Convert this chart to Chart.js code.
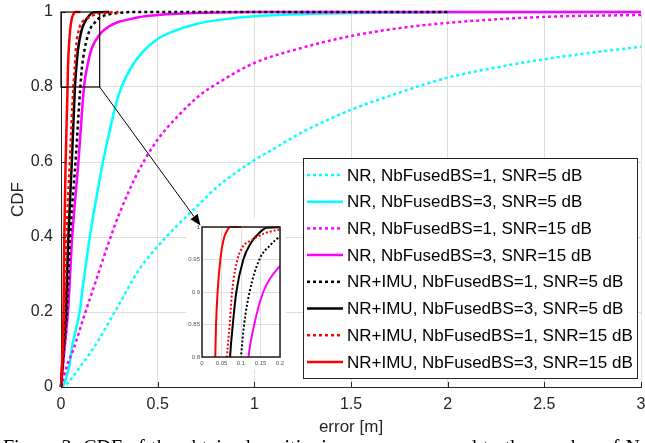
<!DOCTYPE html>
<html>
<head>
<meta charset="utf-8">
<script src="https://cdn.jsdelivr.net/npm/chart.js@4"></script>
<style>
  body { margin: 0; background: #fff; }
  #wrap { position: relative; width: 645px; height: 443px; overflow: hidden; }
  #main { position: absolute; left: 0; top: 0; }
  #inset { position: absolute; left: 186px; top: 219px; }
</style>
</head>
<body>
<div id="wrap">
  <canvas id="main" width="645" height="443"></canvas>
  <canvas id="inset" width="100" height="151"></canvas>
</div>
<script>
// tick values / labels
const xTicks = [0, 0.5, 1, 1.5, 2, 2.5, 3];
const xTickLabels = ['0', '0.5', '1', '1.5', '2', '2.5', '3'];
const yTicks = [0, 0.2, 0.4, 0.6, 0.8, 1];
const yTickLabels = ['0', '0.2', '0.4', '0.6', '0.8', '1'];
const insetXTicks = [0, 0.05, 0.1, 0.15, 0.2];
const insetXTickLabels = ['0', '0.05', '0.1', '0.15', '0.2'];
const insetYTicks = [0.8, 0.85, 0.9, 0.95, 1];
const insetYTickLabels = ['0.8', '0.85', '0.9', '0.95', '1'];

const legendLabels = [
    'NR, NbFusedBS=1, SNR=5 dB',
    'NR, NbFusedBS=3, SNR=5 dB',
    'NR, NbFusedBS=1, SNR=15 dB',
    'NR, NbFusedBS=3, SNR=15 dB',
    'NR+IMU, NbFusedBS=1, SNR=5 dB',
    'NR+IMU, NbFusedBS=3, SNR=5 dB',
    'NR+IMU, NbFusedBS=1, SNR=15 dB',
    'NR+IMU, NbFusedBS=3, SNR=15 dB'
];

// CDF curves (error [m], CDF)
const nrBs1Snr5X = [0, 0.02, 0.05, 0.1, 0.15, 0.2, 0.25, 0.3, 0.4, 0.5, 0.6, 0.7, 0.8, 0.9, 1.0, 1.1, 1.25, 1.5, 1.75, 2.0, 2.25, 2.5, 2.75, 3.0];
const nrBs1Snr5Y = [0, 0.003, 0.02, 0.055, 0.09, 0.13, 0.175, 0.22, 0.31, 0.375, 0.43, 0.48, 0.53, 0.57, 0.605, 0.635, 0.68, 0.739, 0.785, 0.825, 0.852, 0.874, 0.892, 0.907];

const nrBs3Snr5X = [0, 0.01, 0.03, 0.046, 0.055, 0.08, 0.098, 0.115, 0.135, 0.155, 0.185, 0.219, 0.25, 0.29, 0.313, 0.36, 0.425, 0.5, 0.58, 0.7, 0.82, 1.03, 1.3, 1.6, 2, 3];
const nrBs3Snr5Y = [0, 0.002, 0.03, 0.064, 0.1, 0.16, 0.205, 0.276, 0.35, 0.42, 0.51, 0.605, 0.68, 0.765, 0.8, 0.85, 0.895, 0.928, 0.948, 0.968, 0.979, 0.99, 0.995, 0.998, 0.999, 1];

const nrBs1Snr15X = [0, 0.036, 0.064, 0.12, 0.176, 0.25, 0.3, 0.4, 0.5, 0.6, 0.72, 0.81, 1.0, 1.25, 1.5, 1.75, 2.0, 2.5, 3.0];
const nrBs1Snr15Y = [0, 0.064, 0.1, 0.19, 0.276, 0.39, 0.46, 0.575, 0.66, 0.72, 0.779, 0.81, 0.864, 0.905, 0.936, 0.957, 0.971, 0.987, 0.992];

const nrBs3Snr15X = [0, 0.018, 0.036, 0.058, 0.09, 0.119, 0.134, 0.157, 0.2, 0.25, 0.3, 0.34, 0.4, 0.5, 0.75, 1, 3];
const nrBs3Snr15Y = [0, 0.1, 0.2, 0.4, 0.6, 0.8, 0.85, 0.9, 0.94, 0.962, 0.974, 0.979, 0.986, 0.992, 0.998, 1, 1];

const imuBs1Snr5X = [0, 0.015, 0.03, 0.047, 0.075, 0.1, 0.108, 0.122, 0.147, 0.175, 0.2, 0.25, 0.3, 0.4, 2];
const imuBs1Snr5Y = [0, 0.1, 0.2, 0.4, 0.6, 0.8, 0.85, 0.9, 0.95, 0.972, 0.985, 0.994, 0.998, 1, 1];

const imuBs3Snr5X = [0, 0.012, 0.025, 0.038, 0.056, 0.072, 0.079, 0.088, 0.106, 0.125, 0.145, 0.166, 0.25];
const imuBs3Snr5Y = [0, 0.1, 0.2, 0.4, 0.6, 0.8, 0.85, 0.9, 0.95, 0.975, 0.99, 0.999, 1];

const imuBs1Snr15X = [0, 0.01, 0.02, 0.029, 0.046, 0.064, 0.071, 0.077, 0.091, 0.105, 0.128, 0.16, 0.2, 0.3];
const imuBs1Snr15Y = [0, 0.1, 0.2, 0.4, 0.6, 0.8, 0.85, 0.9, 0.95, 0.97, 0.98, 0.99, 0.996, 1];

const imuBs3Snr15X = [0, 0.008, 0.013, 0.017, 0.024, 0.034, 0.036, 0.04, 0.047, 0.055, 0.065, 0.072, 0.1];
const imuBs3Snr15Y = [0, 0.1, 0.2, 0.4, 0.6, 0.8, 0.85, 0.9, 0.95, 0.98, 0.995, 1, 1];

const seriesX = [nrBs1Snr5X, nrBs3Snr5X, nrBs1Snr15X, nrBs3Snr15X, imuBs1Snr5X, imuBs3Snr5X, imuBs1Snr15X, imuBs3Snr15X];
const seriesY = [nrBs1Snr5Y, nrBs3Snr5Y, nrBs1Snr15Y, nrBs3Snr15Y, imuBs1Snr5Y, imuBs3Snr5Y, imuBs1Snr15Y, imuBs3Snr15Y];
const seriesColors = ['#00ffff', '#00ffff', '#ff00ff', '#ff00ff', '#000000', '#000000', '#ff0000', '#ff0000'];
const seriesDotted = [true, false, true, false, true, false, true, false];

const FONT = "'Liberation Sans', Arial, sans-serif";
const AXIS = '#262626';
const GRID = '#dedede';
const INSET_LEFT = 186, INSET_TOP = 219;

const toPoints = (xs, ys) => xs.map((x, i) => ({ x: x, y: ys[i] }));

const makeDatasets = (width, dash, clip) => seriesX.map((xs, i) => ({
    label: legendLabels[i],
    data: toPoints(xs, seriesY[i]),
    borderColor: seriesColors[i],
    backgroundColor: seriesColors[i],
    borderWidth: width,
    borderDash: seriesDotted[i] ? dash : [],
    fill: false,
    clip: clip,
    // later series sit on top, like the original plot
    order: seriesX.length - i
}));

// no extra room for edge labels: keep the plot box where the original has it
const noPad = s => { s.paddingLeft = 0; s.paddingRight = 0; s.paddingTop = 0; s.paddingBottom = 0; };

let mainChart = null;
let insetChart = null;

const drawArrow = (ctx, x1, y1, x2, y2) => {
    const ang = Math.atan2(y2 - y1, x2 - x1);
    const len = 11, half = 4.5;
    const bx = x2 - len * Math.cos(ang), by = y2 - len * Math.sin(ang);
    ctx.save();
    ctx.strokeStyle = '#000';
    ctx.fillStyle = '#000';
    ctx.lineWidth = 1;
    ctx.setLineDash([]);
    ctx.beginPath();
    ctx.moveTo(x1, y1);
    ctx.lineTo(bx, by);
    ctx.stroke();
    ctx.beginPath();
    ctx.moveTo(x2, y2);
    ctx.lineTo(bx + half * Math.sin(ang), by - half * Math.cos(ang));
    ctx.lineTo(bx - half * Math.sin(ang), by + half * Math.cos(ang));
    ctx.closePath();
    ctx.fill();
    ctx.restore();
};

const arrowPoints = () => {
    if (!mainChart || !insetChart) return null;
    const sx = mainChart.scales.x.getPixelForValue(0.2);
    const sy = mainChart.scales.y.getPixelForValue(0.8);
    const ex = INSET_LEFT + insetChart.chartArea.left - 1.5;
    const ey = INSET_TOP + insetChart.chartArea.top - 1.5;
    return [sx, sy, ex, ey];
};

const mainDecor = {
    id: 'mainDecor',
    afterDatasetsDraw(chart) {
        const ctx = chart.ctx;
        const xs = chart.scales.x, ys = chart.scales.y;
        const a = chart.chartArea;
        ctx.save();
        // inward ticks
        ctx.strokeStyle = AXIS;
        ctx.lineWidth = 1;
        xTicks.forEach(v => {
            const px = Math.round(xs.getPixelForValue(v)) + 0.5;
            ctx.beginPath(); ctx.moveTo(px, a.bottom); ctx.lineTo(px, a.bottom - 5); ctx.stroke();
        });
        yTicks.forEach(v => {
            const py = Math.round(ys.getPixelForValue(v)) + 0.5;
            ctx.beginPath(); ctx.moveTo(a.left, py); ctx.lineTo(a.left + 5, py); ctx.stroke();
        });
        // zoom rectangle
        const rx = xs.getPixelForValue(0), rx2 = xs.getPixelForValue(0.2);
        const ry = ys.getPixelForValue(1), ry2 = ys.getPixelForValue(0.8);
        ctx.strokeStyle = '#1a0000';
        ctx.lineWidth = 1.2;
        ctx.strokeRect(rx, ry, rx2 - rx, ry2 - ry);
        ctx.restore();
    },
    afterDraw(chart) {
        const ctx = chart.ctx;
        const a = chart.chartArea;
        ctx.save();
        // legend
        const lx = 303, ly = 158, lw = 334, lh = 220;
        ctx.fillStyle = '#fff';
        ctx.fillRect(lx, ly, lw, lh);
        ctx.strokeStyle = AXIS;
        ctx.lineWidth = 1;
        ctx.strokeRect(lx + 0.5, ly + 0.5, lw, lh);
        ctx.font = '17px ' + FONT;
        ctx.textBaseline = 'middle';
        ctx.textAlign = 'left';
        chart.data.datasets.forEach((ds, i) => {
            const y = ly + 17 + i * 26.7;
            ctx.strokeStyle = ds.borderColor;
            ctx.lineWidth = 2.5;
            ctx.setLineDash(ds.borderDash);
            ctx.beginPath(); ctx.moveTo(lx + 4, y); ctx.lineTo(lx + 40, y); ctx.stroke();
            ctx.setLineDash([]);
            ctx.fillStyle = '#000';
            ctx.fillText(ds.label, lx + 44, y + 1);
        });
        // axis titles
        ctx.fillStyle = AXIS;
        ctx.font = '17px ' + FONT;
        ctx.textAlign = 'center';
        ctx.fillText('error [m]', (a.left + a.right) / 2, 427);
        ctx.save();
        ctx.translate(18, (a.top + a.bottom) / 2);
        ctx.rotate(-Math.PI / 2);
        ctx.fillText('CDF', 0, 0);
        ctx.restore();
        // caption (clipped by the frame)
        const words = 'Figure 3: CDF of the obtained positioning error compared to the number of N'.split(' ');
        ctx.font = '20px "Liberation Serif", "Times New Roman", serif';
        ctx.fillStyle = '#000';
        ctx.textAlign = 'left';
        ctx.textBaseline = 'alphabetic';
        const total = words.reduce((s, w) => s + ctx.measureText(w).width, 0);
        const gap = (640 - 3 - total) / (words.length - 1);
        let cx = 3;
        words.forEach(w => { ctx.fillText(w, cx, 454); cx += ctx.measureText(w).width + gap; });
        ctx.restore();
        const p = arrowPoints();
        if (p) drawArrow(ctx, p[0], p[1], p[2], p[3]);
    }
};

const insetDecor = {
    id: 'insetDecor',
    beforeDraw(chart) {
        const ctx = chart.ctx;
        ctx.save();
        ctx.fillStyle = '#fff';
        ctx.fillRect(0, 0, chart.width, chart.height);
        ctx.restore();
    },
    afterDatasetsDraw(chart) {
        const ctx = chart.ctx;
        const a = chart.chartArea;
        ctx.save();
        ctx.strokeStyle = '#2a1a1a';
        ctx.lineWidth = 1.5;
        ctx.strokeRect(a.left, a.top, a.right - a.left, a.bottom - a.top);
        ctx.restore();
    },
    afterDraw(chart) {
        const p = arrowPoints();
        if (p) drawArrow(chart.ctx, p[0] - INSET_LEFT, p[1] - INSET_TOP, p[2] - INSET_LEFT, p[3] - INSET_TOP);
    }
};

mainChart = new Chart(document.getElementById('main').getContext('2d'), {
    type: 'line',
    data: { datasets: makeDatasets(2.5, [3, 3], { left: 2, top: 3, right: 2, bottom: 2 }) },
    options: {
        responsive: false,
        animation: false,
        devicePixelRatio: 1,
        layout: { padding: { top: 12, right: 4, left: 0, bottom: 0 } },
        plugins: { legend: { display: false }, tooltip: { enabled: false } },
        elements: { point: { radius: 0 }, line: { cubicInterpolationMode: 'monotone' } },
        scales: {
            x: {
                type: 'linear', min: 0, max: 3,
                afterFit: s => { s.height = 56; noPad(s); },
                afterBuildTicks: s => { s.ticks = xTicks.map(v => ({ value: v })); },
                ticks: {
                    callback: (v, i) => xTickLabels[i],
                    font: { family: FONT, size: 16 }, color: AXIS,
                    padding: 8, maxRotation: 0, autoSkip: false
                },
                grid: { color: GRID, drawTicks: false },
                border: { color: AXIS, width: 1 }
            },
            y: {
                type: 'linear', min: 0, max: 1,
                afterFit: s => { s.width = 61; noPad(s); },
                afterBuildTicks: s => { s.ticks = yTicks.map(v => ({ value: v })); },
                ticks: {
                    callback: (v, i) => yTickLabels[i],
                    font: { family: FONT, size: 16 }, color: AXIS,
                    padding: 8, autoSkip: false
                },
                grid: { color: GRID, drawTicks: false },
                border: { color: AXIS, width: 1 }
            }
        }
    },
    plugins: [mainDecor]
});

insetChart = new Chart(document.getElementById('inset').getContext('2d'), {
    type: 'line',
    data: { datasets: makeDatasets(2, [2, 2], { left: 0, top: 2, right: 0, bottom: 0 }) },
    options: {
        responsive: false,
        animation: false,
        devicePixelRatio: 1,
        layout: { padding: { top: 8, right: 6, left: 0, bottom: 0 } },
        plugins: { legend: { display: false }, tooltip: { enabled: false } },
        elements: { point: { radius: 0 }, line: { cubicInterpolationMode: 'monotone' } },
        scales: {
            x: {
                type: 'linear', min: 0, max: 0.2,
                afterFit: s => { s.height = 13; noPad(s); },
                afterBuildTicks: s => { s.ticks = insetXTicks.map(v => ({ value: v })); },
                ticks: {
                    callback: (v, i) => insetXTickLabels[i],
                    font: { family: FONT, size: 6 }, color: '#555',
                    padding: 3, maxRotation: 0, autoSkip: false
                },
                grid: { color: GRID, drawTicks: false },
                border: { display: false }
            },
            y: {
                type: 'linear', min: 0.8, max: 1,
                afterFit: s => { s.width = 16; noPad(s); },
                afterBuildTicks: s => { s.ticks = insetYTicks.map(v => ({ value: v })); },
                ticks: {
                    callback: (v, i) => insetYTickLabels[i],
                    font: { family: FONT, size: 6 }, color: '#555',
                    padding: 2, autoSkip: false
                },
                grid: { color: GRID, drawTicks: false },
                border: { display: false }
            }
        }
    },
    plugins: [insetDecor]
});

// redraw so each canvas can place the connecting arrow
mainChart.draw();
insetChart.draw();
</script>
</body>
</html>
